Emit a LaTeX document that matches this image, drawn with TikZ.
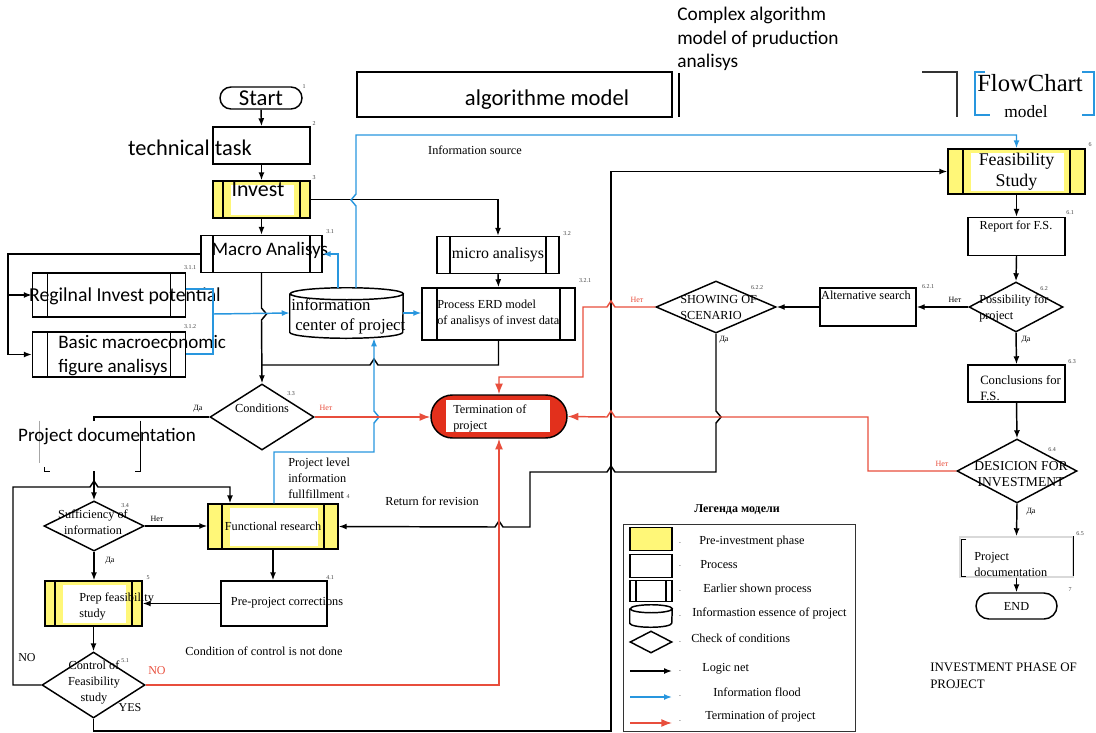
\documentclass[tikz,border=0pt]{standalone}
\usepackage{fontspec}
\setmainfont{Liberation Serif}
\setsansfont{Carlito}
\usetikzlibrary{shapes.geometric,shapes.misc,arrows.meta}
\newdimen\pu \pu=0.75pt
\definecolor{yel}{RGB}{255,247,120}
\definecolor{infblue}{RGB}{40,150,222}
\definecolor{stopred}{RGB}{232,78,60}
\definecolor{termred}{RGB}{226,48,28}

\begin{document}
\begin{tikzpicture}[x=0.75pt,y=-0.75pt,
  every node/.style={inner sep=0pt},
  ln/.style={line width=1.1pt},
  arr/.style={ln,-{Latex[length=6pt,width=4.5pt]}},
  blu/.style={ln,draw=infblue,-{Latex[length=6pt,width=4.5pt]}},
  rd/.style={ln,draw=stopred,-{Latex[length=8pt,width=6pt]}},
  box/.style={draw,ln,rectangle},
  pp/.style={box,path picture={
      \draw[ln] ([xshift=#1*0.75pt]path picture bounding box.north west) -- ([xshift=#1*0.75pt]path picture bounding box.south west)
        ([xshift=-#1*0.75pt]path picture bounding box.north east) -- ([xshift=-#1*0.75pt]path picture bounding box.south east);}},
  ypp/.style={box,fill=yel,path picture={
      \fill[white] ([xshift=(#1+8)*0.75pt,yshift=-3pt]path picture bounding box.north west)
        rectangle ([xshift=-(#1+6)*0.75pt,yshift=2pt]path picture bounding box.south east);
      \draw[ln] ([xshift=#1*0.75pt]path picture bounding box.north west) -- ([xshift=#1*0.75pt]path picture bounding box.south west)
        ([xshift=-#1*0.75pt]path picture bounding box.north east) -- ([xshift=-#1*0.75pt]path picture bounding box.south east);}},
  dia/.style={draw,ln,diamond},
  term/.style={draw,ln,rounded rectangle},
  sf/.style={font=\sffamily\fontsize{14.3}{18}\selectfont},
  tx/.style={font=\fontsize{9.2}{12}\selectfont},
  da/.style={font=\fontsize{6}{7}\selectfont},
  num/.style={font=\fontsize{4.5}{5}\selectfont,text=black!75}]
\useasboundingbox (0,0) rectangle (1096,732);

% headers
\node[anchor=north west,align=left,font=\sffamily\fontsize{14.5}{17.6}\selectfont] (cmplx) at (677,7) {Complex algorithm\\model of pruduction\\analisys};
\node[box,minimum width=315\pu,minimum height=45\pu] (algo) at (514.5,94.5) {};
\node[font=\sffamily\fontsize{17}{19}\selectfont] (algot) at (547,100) {algorithme model};
\draw[ln] (679,73) -- (679,117);
\draw[ln,black!80] (922,72) -- (957,72) -- (957,117);
\draw[ln,infblue] (985,72) -- (975,72) -- (975,115) -- (990,115);
\draw[ln,infblue] (1082,72) -- (1094,72) -- (1094,115) -- (1082,115);
\node[font=\fontsize{18.5}{20}\selectfont] (fc) at (1030,83) {FlowChart};
\node[font=\fontsize{13}{14}\selectfont] (fcm) at (1026,112) {model};

% left column
\node[term,minimum width=82\pu,minimum height=22\pu,font=\sffamily\fontsize{17}{18}\selectfont] (start) at (261,98) {Start};
\node[box,minimum width=97\pu,minimum height=37\pu] (task) at (261.5,145.5) {};
\node[font=\sffamily\fontsize{16.8}{18}\selectfont] (taskt) at (190,148) {technical task};
\node[ypp=10,minimum width=97\pu,minimum height=37\pu] (invest) at (261.5,199.5) {};
\node[font=\sffamily\fontsize{16.4}{18}\selectfont] (investt) at (258,190) {Invest};
\node[pp=12,minimum width=121\pu,minimum height=37\pu] (macro) at (261.5,254) {};
\node[sf] (macrot) at (270,250) {Macro Analisys};
\node[pp=15,minimum width=153\pu,minimum height=44\pu] (regional) at (109,295) {};
\node[font=\sffamily\fontsize{14.8}{18}\selectfont] (regionalt) at (125,296) {Regilnal Invest potential};
\node[pp=15,minimum width=153\pu,minimum height=45\pu] (basic) at (109,354.5) {};
\node[sf,anchor=west,align=left] (basict) at (58,356) {Basic macroeconomic\\figure analisys};
% information center (cylinder)
\node[minimum width=113\pu,minimum height=50\pu] (infoc) at (346.5,313) {};
\draw[ln] ([yshift=-6\pu]infoc.north west) -- ([yshift=6\pu]infoc.south west)
  arc[start angle=180,end angle=360,x radius=56.5\pu,y radius=6\pu] -- ([yshift=-6\pu]infoc.north east)
  arc[start angle=0,end angle=360,x radius=56.5\pu,y radius=6\pu];
\node[font=\fontsize{12.6}{15}\selectfont,anchor=west,align=left] (infoct) at (291,316) {information\\\hspace*{3pt}center of project};
\node[pp=13,minimum width=122\pu,minimum height=37\pu,font=\fontsize{11.9}{13}\selectfont] (micro) at (498,255) {micro analisys};
\node[pp=15,minimum width=153\pu,minimum height=52\pu] (erd) at (498.5,314) {};
\node[tx,anchor=west,align=left] (erdt) at (437,314) {Process ERD model\\of analisys of invest data};
\node[dia,minimum width=104\pu,minimum height=66\pu] (cond) at (262,417) {};
\node[tx] (condt) at (262,408) {Conditions};
\node[term,fill=termred,minimum width=136\pu,minimum height=43\pu,path picture={
  \fill[white] ([xshift=11pt,yshift=-4pt]path picture bounding box.north west) rectangle ([xshift=-13pt,yshift=4.5pt]path picture bounding box.south east);}] (stop) at (499,416.5) {};
\node[tx,anchor=west,align=left] (stopt) at (453,418) {Termination of\\project};

% lower left
\node[minimum width=100\pu,minimum height=50\pu] (pdl) at (90,446) {};
\draw[ln,black!35] (pdl.north west) -- ([yshift=8\pu]pdl.south west);
\draw[ln] ([shift={(5\pu,4\pu)}]pdl.south west) -- ([xshift=5\pu]pdl.south west) -- ([xshift=10\pu]pdl.south west);
\draw[ln] (pdl.north east) -- (pdl.south east) -- ([xshift=-5\pu]pdl.south east);
\node[sf] (pdlt) at (107,437) {Project documentation};
\node[dia,minimum width=100\pu,minimum height=50\pu] (suff) at (94,526) {};
\node[tx,align=center] (sufft) at (93,522) {Sufficiency of\\information};
\node[ypp=14,minimum width=130\pu,minimum height=45\pu,tx] (func) at (273,526.5) {Functional research};
\node[box,minimum width=106\pu,minimum height=45\pu] (pre) at (274,603.5) {};
\node[tx] (pret) at (287,603) {Pre-project corrections};
\node[ypp=10,minimum width=97\pu,minimum height=45\pu] (prep) at (93.5,603.5) {};
\node[tx,anchor=west,align=left] (prept) at (79,606) {Prep feasibility\\study};
\node[tx] (cnd) at (264,651) {Condition of control is not done};
\node[dia,minimum width=103\pu,minimum height=66\pu] (ctrl) at (93.5,685) {};
\node[tx,align=center] (ctrlt) at (94,682) {Control of\\Feasibility\\study};

% right column
\node[ypp=15,minimum width=137\pu,minimum height=45\pu,font=\fontsize{13.4}{16}\selectfont,align=center] (feas) at (1016.5,171.5) {Feasibility\\Study};
\node[box,minimum width=97\pu,minimum height=38\pu] (report) at (1016.5,236.5) {};
\node[tx] (reportt) at (1016,226) {Report for F.S.};
\node[dia,minimum width=94\pu,minimum height=50\pu] (poss) at (1016,307) {};
\node[tx,anchor=west,align=left] (posst) at (979,308) {Possibility for\\project};
\node[box,minimum width=96\pu,minimum height=38\pu] (alt) at (868,307) {};
\node[tx] (altt) at (866,295) {Alternative search};
\node[dia,minimum width=120\pu,minimum height=52\pu] (show) at (716,307) {};
\node[tx,anchor=west,align=left] (showt) at (680,307) {SHOWING OF\\SCENARIO};
\node[box,minimum width=97\pu,minimum height=37\pu] (concl) at (1016.5,383.5) {};
\node[font=\fontsize{9.5}{12}\selectfont,anchor=west,align=left] (conclt) at (980,388) {Conclusions for\\F.S.};
\node[dia,minimum width=120\pu,minimum height=64\pu] (dec) at (1017,471) {};
\node[font=\fontsize{10.2}{12.5}\selectfont,align=center] (dect) at (1021,474) {DESICION FOR\\INVESTMENT};
\node[draw=black!15,ln,minimum width=113\pu,minimum height=40\pu] (pdoc) at (1016.5,557) {};
\draw[ln] ([shift={(7\pu,-3\pu)}]pdoc.north west) -- ([shift={(2\pu,-3\pu)}]pdoc.north west) -- ([shift={(2\pu,1\pu)}]pdoc.south west) -- ([shift={(7\pu,1\pu)}]pdoc.south west);
\draw[ln] (pdoc.north east) -- ([yshift=2\pu]pdoc.south east);
\node[tx,anchor=west,align=left] (pdoct) at (974,564) {Project\\documentation};
\node[term,minimum width=81\pu,minimum height=26\pu,tx] (endn) at (1016.5,606) {END};
\node[font=\fontsize{9.7}{12.5}\selectfont,anchor=west,align=left] (phase) at (930,676) {INVESTMENT PHASE OF\\PROJECT};

% logic net
\draw[arr] (start.south) -- (task.north);
\draw[arr] (task.south) -- (invest.north);
\draw[arr] (invest.south) -- (macro.north);
\draw[arr] (invest.east) -| (micro.north);
\draw[arr] (micro.south) -- (erd.north);
\draw[arr] (macro.west) -| (8,354.5) -- (basic.west);
\draw[arr] (8,295) -- (regional.west);
\draw[arr] (macro.south) -- (261.5,308) -- (266.5,314) -- (261.5,320) -- (cond.north);
\draw[ln] (erd.south) |- (378,365) -- (374,359) -- (370,365) -- (261.5,365);
\draw[ln] (cond.west) -| (pdl.north -| suff.north);
\draw[arr] (pdl.south -| suff.north) -- (suff.north);
\draw[arr] (suff.east) -- (suff.east -| func.west);
\draw[arr] (suff.south) -- (suff.south |- prep.north);
\draw[arr] (func.south) -- (func.south |- pre.north);
\draw[arr] (pre.west) -- (pre.west -| prep.east);
\draw[arr] (prep.south) -- (ctrl.north);
\draw[arr] (ctrl.west) -| (13,487) -- (90,487) -- (94,481) -- (98,487) -| (func.north -| 230,0);
\draw[arr] (ctrl.south) -- (93.5,731) -| (611,171.5) -- (feas.west);
\draw[arr] (show.south) -- (716,411) -- (721,417) -- (716,423) |- (615,472) -- (611,466) -- (607,472) -- (530,472) |- (503,527) -- (499,521) -- (495,527) -- (func.east);
\draw[arr] (feas.south) -- (report.north);
\draw[arr] (report.south) -- (poss.north);
\draw[arr] (poss.west) -- (alt.east);
\draw[arr] (alt.west) -- (show.east);
\draw[arr] (poss.south) -- (concl.north);
\draw[arr] (concl.south) -- (dec.north);
\draw[arr] (dec.south) -- (pdoc.north);
\draw[arr] (pdoc.south) -- (endn.north);

% information flood
\draw[blu] (356,288) -- (356,206) -- (351,200) -- (356,194) |- (1016.5,135) -- (feas.north);
\draw[blu] (338,288) |- (macro.east);
\draw[ln,infblue] (regional.east |- 0,289) -| (213,354) -- (basic.east |- 0,354);
\draw[blu] (213,314) -- (infoc.west);
\draw[blu] (infoc.east) -- (infoc.east -| erd.west);
\draw[blu] (func.north -| 274,0) |- (374,452) -- (374,423) -- (379,417) -- (374,411) -- (infoc.south -| 374,0);

% termination
\draw[rd] (cond.east) -- (cond.east -| stop.west);
\draw[rd] (show.west) -- (615,307) -- (611,301) -- (607,307) -- (583,307) |- (499,377) -- (stop.north);
\draw[rd] (dec.west) -| (868,417) -- (615,417) -- (611,411) -- (607,417) -- (stop.east);
\draw[rd] (ctrl.east) -| (stop.south);

% labels
\node[da] (l1) at (198,409) {Да};
\node[da,text=stopred] (l2) at (326,408) {Нет};
\node[da] (l3) at (157,519) {Нет};
\node[da] (l4) at (110,561) {Да};
\node[da,text=stopred] (l5) at (637,300) {Нет};
\node[da] (l6) at (724,340) {Да};
\node[da] (l7) at (955,300) {Нет};
\node[da] (l8) at (1026,340) {Да};
\node[da,text=stopred] (l9) at (942,464) {Нет};
\node[da] (l10) at (1031,512) {Да};
\node[font=\fontsize{9}{10}\selectfont] (no1) at (27,658) {NO};
\node[font=\fontsize{9}{10}\selectfont,text=stopred] (no2) at (157,671) {NO};
\node[font=\fontsize{9}{10}\selectfont] (yes) at (130,708) {YES};
\node[font=\fontsize{9.2}{10}\selectfont] (srct) at (475,150) {Information source};
\node[tx,anchor=west,align=left] (lvl) at (288,478) {Project level\\information\\fullfillment};
\node[tx] (rev) at (432,501) {Return for revision};

% numbers
\foreach [count=\i] \p/\t in {{304,87}/1,{314,124}/2,{314,178}/3,{330,232}/3.1,{190,268}/3.1.1,{190,327}/3.1.2,
  {567,234}/3.2,{585,281}/3.2.1,{291,394}/3.3,{125,506}/3.4,{348,497}/4,{330,578}/4.1,{148,578}/5,{125,661}/5.1,
  {1090,145}/6,{1070,213}/6.1,{1044,289}/6.2,{928,287}/6.2.1,{757,288}/6.2.2,{1072,362}/6.3,{1052,450}/6.4,
  {1080,534}/6.5,{1070,590}/7}
  \node[num] (n\i) at (\p) {\t};

% legend
\node[font=\bfseries\fontsize{9}{10}\selectfont] (legt) at (737,510) {Легенда модели};
\draw[line width=0.7pt,black!80] (623,524) rectangle (855,731);
\node[box,fill=yel,minimum width=42\pu,minimum height=23\pu] (lg1) at (651,539) {};
\node[box,minimum width=42\pu,minimum height=23\pu] (lg2) at (651,566) {};
\node[pp=6,minimum width=42\pu,minimum height=21\pu] (lg3) at (651,591) {};
\node[minimum width=42\pu,minimum height=22\pu] (lg4) at (651,616) {};
\draw[ln] ([yshift=-4\pu]lg4.north west) -- ([yshift=4\pu]lg4.south west)
  arc[start angle=180,end angle=360,x radius=21\pu,y radius=4\pu] -- ([yshift=-4\pu]lg4.north east)
  arc[start angle=0,end angle=360,x radius=21\pu,y radius=4\pu];
\node[dia,minimum width=42\pu,minimum height=22\pu] (lg5) at (651,642) {};
\draw[arr] (630,671) -- (672,671);
\draw[blu] (630,697) -- (672,697);
\draw[rd] (630,723) -- (672,723);
\foreach \y in {544,567,592,617,643,672,697,722}
  \node[font=\fontsize{5}{5}\selectfont,text=black!60] at (680,\y) {-};
\node[tx,anchor=west] (lt1) at (699,542) {Pre-investment phase};
\node[tx,anchor=west] (lt2) at (700,565) {Process};
\node[tx,anchor=west] (lt3) at (703,590) {Earlier shown process};
\node[tx,anchor=west] (lt4) at (692,613) {Informastion essence of project};
\node[tx,anchor=west] (lt5) at (691,638) {Check of conditions};
\node[tx,anchor=west] (lt6) at (702,669) {Logic net};
\node[tx,anchor=west] (lt7) at (713,692) {Information flood};
\node[tx,anchor=west] (lt8) at (705,716) {Termination of project};
\end{tikzpicture}
\end{document}
